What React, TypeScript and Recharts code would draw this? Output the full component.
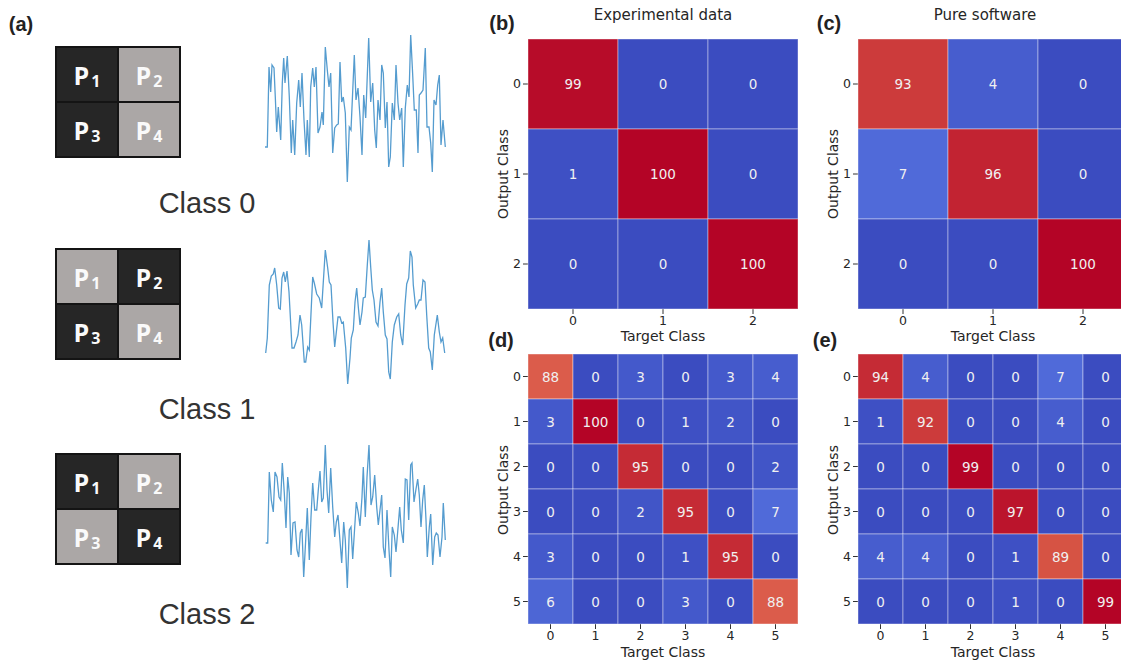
import { Line, LineChart, Scatter, ScatterChart, XAxis, YAxis } from "recharts";

// class labels for the confusion matrices
const threeClasses = [0, 1, 2];
const sixClasses = [0, 1, 2, 3, 4, 5];

// rows = output class, columns = target class
const expThree = [
  [99, 0, 0],
  [1, 100, 0],
  [0, 0, 100],
];
const softThree = [
  [93, 4, 0],
  [7, 96, 0],
  [0, 0, 100],
];
const expSix = [
  [88, 0, 3, 0, 3, 4],
  [3, 100, 0, 1, 2, 0],
  [0, 0, 95, 0, 0, 2],
  [0, 0, 2, 95, 0, 7],
  [3, 0, 0, 1, 95, 0],
  [6, 0, 0, 3, 0, 88],
];
const softSix = [
  [94, 4, 0, 0, 7, 0],
  [1, 92, 0, 0, 4, 0],
  [0, 0, 99, 0, 0, 0],
  [0, 0, 0, 97, 0, 0],
  [4, 4, 0, 1, 89, 0],
  [0, 0, 0, 1, 0, 99],
];

// pixel patterns per class (1 = dark)
const classPatterns = [
  [1, 0, 1, 0],
  [0, 1, 1, 0],
  [1, 0, 0, 1],
];
const classNames = ["Class 0", "Class 1", "Class 2"];

// sample signals [t, amplitude]
const wave0: [number, number][] = [
  [0, 0.43], [2.3, 0.43], [4, 1.23], [5.7, 0.98], [7, 1.25], [9, 1.22], [10.3, 0.93], [11.7, 0.58],
  [13.3, 0.83], [15.7, 0.5], [17.3, 1.07], [18.7, 1.32], [20, 1.07], [22.3, 1.34], [24.3, 0.93],
  [26.3, 0.37], [27.7, 0.7], [29.7, 0.35], [31.7, 0.87], [33.7, 1.1], [35.3, 0.83], [37, 1.17],
  [39, 0.7], [41, 0.35], [42.3, 0.7], [44.3, 0.33], [45.7, 1.03], [47.7, 1.22], [49.3, 1.03],
  [51, 1.23], [53, 0.57], [55, 0.63], [57, 0.78], [58.3, 0.65], [60.3, 1.43], [62.3, 1.2],
  [64, 1.03], [65.7, 1.17], [67.7, 0.37], [69.7, 0.62], [71.7, 0.65], [73.3, 0.66], [75, 1.28],
  [76.7, 0.88], [78.3, 0.93], [80.3, 0.77], [82.3, 0.08], [84.3, 0.63], [86, 0.6], [89.3, 1.35],
  [91, 0.9], [93, 1.02], [95, 0.73], [97, 0.35], [98.7, 0.95], [100.7, 0.72], [103.7, 1.52],
  [105.7, 0.88], [107.7, 1.07], [109.7, 0.6], [111.3, 0.42], [113, 0.9], [115, 0.7], [116.7, 1.25],
  [118.3, 1.17], [120.3, 0.62], [122, 0.88], [123.7, 0.23], [125.3, 0.33], [127.3, 0.87],
  [129.3, 0.7], [131, 1.25], [133, 0.87], [134.7, 0.7], [136.7, 0.82], [138.3, 0.23], [140.3, 0.82],
  [142.3, 1.05], [144, 0.93], [145.7, 1.55], [147.7, 1.15], [149.3, 0.8], [151.3, 0.8], [153, 0.37],
  [154.3, 0.95], [156, 0.97], [158, 1.0], [160.3, 1.42], [162, 0.63], [164, 0.63], [165.7, 0.47],
  [167.3, 0.18], [169, 0.9], [171, 0.85], [172.7, 1.05], [174.3, 1.15], [176, 0.45], [178, 0.7],
  [180.3, 0.43],
];
const wave1: [number, number][] = [
  [0.7, 0.42], [2.3, 0.57], [4.3, 1.1], [6.3, 1.19], [8.3, 1.21], [9.7, 1.27], [11.7, 1.1],
  [13.7, 0.87], [15.3, 0.86], [17, 1.17], [18.7, 1.23], [20.3, 1.13], [22, 1.24], [24, 1.03],
  [27, 0.47], [29, 0.47], [31, 0.53], [33, 0.6], [35, 0.8], [36.7, 0.7], [39.3, 0.33], [40.7, 0.33],
  [42.7, 0.48], [44.3, 0.45], [47.7, 1.18], [49.3, 1.12], [51.7, 1.01], [54.3, 0.97], [56.7, 0.87],
  [60.3, 1.45], [62.7, 1.27], [64.3, 1.13], [66, 1.1], [68, 0.73], [69.7, 0.48], [73, 0.78],
  [75, 0.78], [76.7, 0.72], [78.3, 0.73], [80.7, 0.47], [82.7, 0.11], [85, 0.37], [86.3, 0.57],
  [88.3, 0.65], [90, 0.93], [91.7, 1.07], [93.3, 0.88], [95, 0.7], [97, 0.83], [98.3, 0.97],
  [100.3, 0.98], [102.3, 1.3], [104, 1.55], [105.7, 1.28], [107.3, 1.05], [109, 0.95], [111, 0.73],
  [113, 0.69], [115, 0.93], [116.7, 1.07], [118.3, 0.83], [120.3, 0.6], [122, 0.56], [123.7, 0.23],
  [125.3, 0.16], [127.3, 0.53], [129.3, 0.7], [131.7, 0.78], [133.7, 0.81], [135.7, 0.6],
  [137.7, 0.5], [140, 0.9], [141.7, 1.11], [143.7, 1.17], [145.3, 1.44], [147, 1.38], [148.3, 1.1],
  [150.7, 0.87], [152.7, 0.91], [154.3, 0.95], [156, 0.95], [158, 1.15], [160, 1.13], [161.7, 0.8],
  [163.7, 0.47], [165.3, 0.43], [167.3, 0.25], [169.3, 0.6], [172.3, 0.8], [174.3, 0.63],
  [176, 0.53], [177.7, 0.57], [179.7, 0.42],
];
const wave2: [number, number][] = [
  [0.7, 0.57], [2.7, 0.57], [4.3, 1.28], [6.3, 1.0], [8.3, 0.88], [10, 1.28], [12, 1.23], [14, 1.03],
  [15.7, 1.0], [17.3, 1.37], [19.3, 1.07], [21, 0.72], [22.7, 1.23], [24.3, 1.07], [26, 0.45],
  [28, 0.77], [30, 0.78], [32, 0.5], [33.7, 0.43], [35.3, 0.67], [37, 0.71], [38.7, 0.23],
  [40.7, 0.6], [42.3, 0.92], [44.3, 0.4], [46, 0.83], [47.7, 1.17], [49.7, 0.9], [51.7, 0.9],
  [53.3, 1.1], [55, 1.29], [56.7, 0.98], [58.3, 1.02], [60.3, 1.55], [62, 1.1], [63.7, 0.87],
  [65.7, 1.32], [67.7, 0.93], [69.7, 0.63], [71.3, 0.78], [73, 0.85], [74.7, 0.63], [76.7, 0.37],
  [78.7, 0.78], [80.3, 0.6], [82.3, 0.12], [84.3, 0.7], [86, 0.73], [87.7, 0.41], [91.3, 0.98],
  [93.3, 0.87], [95, 0.74], [97, 1.03], [98.3, 1.33], [100.3, 0.83], [102, 1.23], [104, 1.55],
  [106, 0.95], [107.7, 1.03], [109.7, 1.25], [111.7, 0.93], [113.3, 0.75], [115, 0.9], [116.7, 1.05],
  [118.3, 0.53], [120, 0.42], [122, 0.9], [124, 0.5], [125.7, 0.23], [127.3, 0.73], [129.3, 0.65],
  [131, 0.48], [133, 0.72], [134.7, 0.93], [136.3, 0.7], [138.3, 0.57], [140.3, 1.21], [142, 1.2],
  [143.7, 0.8], [145.7, 1.35], [147, 1.37], [149, 0.98], [151, 1.11], [152.7, 1.21], [154.3, 1.05],
  [156, 0.73], [157.7, 1.0], [159.3, 1.15], [161, 0.8], [162.3, 0.43], [164.3, 0.73], [165.7, 0.86],
  [167.7, 0.35], [169.7, 0.63], [171.3, 0.67], [173, 0.65], [175, 0.43], [177, 0.63], [178.3, 0.97],
  [180.3, 0.6],
];
const waves = [wave0, wave1, wave2];

const COOLWARM = [
  "#3b4cc0", "#5977e3", "#7b9ff9", "#9ebeff", "#c0d4f5", "#dddcdc",
  "#f2cbb7", "#f7ac8e", "#ee8468", "#d65244", "#b40426",
];

function hexToRgb(h: string) {
  const n = parseInt(h.slice(1), 16);
  return [(n >> 16) & 255, (n >> 8) & 255, n & 255];
}

function coolwarm(t: number) {
  const s = Math.max(0, Math.min(1, t)) * (COOLWARM.length - 1);
  const i = Math.min(Math.floor(s), COOLWARM.length - 2);
  const f = s - i;
  const a = hexToRgb(COOLWARM[i]);
  const b = hexToRgb(COOLWARM[i + 1]);
  const c = a.map((v, k) => Math.round(v + (b[k] - v) * f));
  return `rgb(${c[0]},${c[1]},${c[2]})`;
}

const PLOT = 270;
const MONO = "DejaVu Sans, sans-serif";
const SANS = "Liberation Sans, Arial, sans-serif";

function Heatmap({ matrix, classes, left, top }: { matrix: number[][]; classes: number[]; left: number; top: number }) {
  const n = classes.length;
  const cell = PLOT / n;
  const vmax = Math.max(...matrix.flat());
  const data = matrix.flatMap((row, r) => row.map((v, c) => ({ x: classes[c], y: classes[r], v })));
  const tick = { fill: "#262626", fontSize: 12.5, fontFamily: MONO };

  const drawCell = (p: any) => {
    const { cx, cy, payload } = p;
    return (
      <g>
        <rect
          x={cx - cell / 2}
          y={cy - cell / 2}
          width={cell}
          height={cell}
          fill={coolwarm(payload.v / vmax)}
          stroke="rgba(255,255,255,0.4)"
          strokeWidth={1}
        />
        <text x={cx} y={cy} dy={5} textAnchor="middle" fill="#f0f0f0" fontSize={13.5} fontFamily={MONO}>
          {payload.v}
        </text>
      </g>
    );
  };

  return (
    <div style={{ position: "absolute", left, top }}>
      <ScatterChart width={330} height={345} margin={{ top: 39, right: 12, bottom: 6, left: 28 }}>
        <XAxis
          type="number"
          dataKey="x"
          domain={[-0.5, n - 0.5]}
          ticks={classes}
          axisLine={false}
          tickSize={5}
          tickLine={{ stroke: "#333" }}
          tick={tick}
          height={30}
          interval={0}
        />
        <YAxis
          type="number"
          dataKey="y"
          reversed
          domain={[-0.5, n - 0.5]}
          ticks={classes}
          axisLine={false}
          tickSize={5}
          tickLine={{ stroke: "#333" }}
          tick={tick}
          width={20}
          interval={0}
        />
        <Scatter data={data} shape={drawCell} isAnimationActive={false} />
      </ScatterChart>
    </div>
  );
}

function Wave({ points, top }: { points: [number, number][]; top: number }) {
  const data = points.map(([t, v]) => ({ t, v }));
  return (
    <div style={{ position: "absolute", left: 265, top }}>
      <LineChart width={181} height={160} data={data} margin={{ top: 0, right: 0, bottom: 0, left: 0 }}>
        <XAxis type="number" dataKey="t" domain={[0, 181]} hide />
        <YAxis type="number" domain={[0, 1.6]} hide />
        <Line type="linear" dataKey="v" stroke="#559ccf" strokeWidth={1.3} dot={false} isAnimationActive={false} />
      </LineChart>
    </div>
  );
}

function PixelGrid({ pattern, top }: { pattern: number[]; top: number }) {
  return (
    <div
      style={{
        position: "absolute",
        left: 55,
        top,
        width: 126,
        height: 112,
        boxSizing: "border-box",
        background: "#141414",
        padding: 2,
        display: "grid",
        gridTemplateColumns: "1fr 1fr",
        gridTemplateRows: "1fr 1fr",
        gap: 2,
      }}
    >
      {pattern.map((d, i) => (
        <div
          key={i}
          style={{
            background: d ? "#262626" : "#aba7a6",
            display: "flex",
            alignItems: "center",
            justifyContent: "center",
            color: "#fafafa",
            fontFamily: "Open Sans, sans-serif",
            fontWeight: 700,
          }}
        >
          <span style={{ fontSize: 25 }}>P</span>
          <span style={{ fontSize: 16, position: "relative", top: 6, marginLeft: 2 }}>{i + 1}</span>
        </div>
      ))}
    </div>
  );
}

function Txt({ x, y, children, size, rotate, family, weight, color }: any) {
  return (
    <div
      style={{
        position: "absolute",
        left: x,
        top: y,
        transform: `translate(-50%, -50%)${rotate ? " rotate(-90deg)" : ""}`,
        whiteSpace: "nowrap",
        fontSize: size,
        fontFamily: family ?? MONO,
        fontWeight: weight ?? 400,
        color: color ?? "#262626",
        lineHeight: 1,
      }}
    >
      {children}
    </div>
  );
}

export default function App() {
  const gridTops = [46, 248, 453];
  const waveTops = [30, 235, 440];
  const classY = [203, 409, 614];
  return (
    <div
      style={{
        position: "absolute",
        left: 0,
        top: 0,
        width: 1121,
        height: 661,
        overflow: "hidden",
        background: "#fff",
      }}
    >
      <Txt x={21} y={24} size={20} family={SANS} weight={700} color="#222">(a)</Txt>
      {classPatterns.map((p, i) => (
        <PixelGrid key={i} pattern={p} top={gridTops[i]} />
      ))}
      {waves.map((w, i) => (
        <Wave key={i} points={w} top={waveTops[i]} />
      ))}
      {classNames.map((c, i) => (
        <Txt key={c} x={207} y={classY[i]} size={29} family={SANS} color="#333">
          {c}
        </Txt>
      ))}

      <Heatmap matrix={expThree} classes={threeClasses} left={480} top={0} />
      <Heatmap matrix={softThree} classes={threeClasses} left={810} top={0} />
      <Heatmap matrix={expSix} classes={sixClasses} left={480} top={315} />
      <Heatmap matrix={softSix} classes={sixClasses} left={810} top={315} />

      <Txt x={502} y={23} size={20} family={SANS} weight={700} color="#222">(b)</Txt>
      <Txt x={829} y={23} size={20} family={SANS} weight={700} color="#222">(c)</Txt>
      <Txt x={501} y={340} size={20} family={SANS} weight={700} color="#222">(d)</Txt>
      <Txt x={825} y={340} size={20} family={SANS} weight={700} color="#222">(e)</Txt>

      <Txt x={663} y={15} size={15}>Experimental data</Txt>
      <Txt x={985} y={15} size={15}>Pure software</Txt>

      <Txt x={663} y={336} size={14}>Target Class</Txt>
      <Txt x={993} y={336} size={14}>Target Class</Txt>
      <Txt x={663} y={652} size={14}>Target Class</Txt>
      <Txt x={993} y={652} size={14}>Target Class</Txt>

      <Txt x={503} y={174} size={14} rotate>Output Class</Txt>
      <Txt x={833} y={174} size={14} rotate>Output Class</Txt>
      <Txt x={503} y={490} size={14} rotate>Output Class</Txt>
      <Txt x={833} y={490} size={14} rotate>Output Class</Txt>
    </div>
  );
}
